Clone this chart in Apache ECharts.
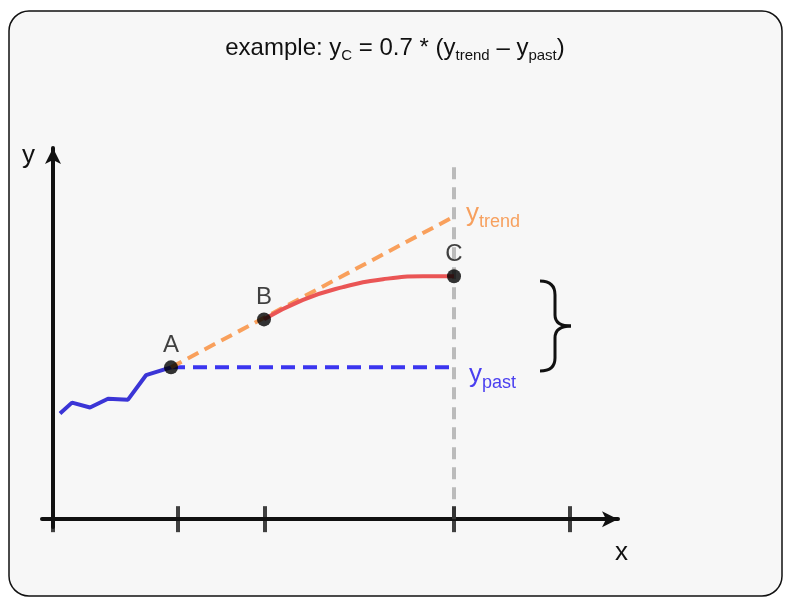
<!DOCTYPE html>
<html><head><meta charset="utf-8">
<script src="https://cdn.jsdelivr.net/npm/echarts@6/dist/echarts.min.js"></script>
<style>html,body{margin:0;padding:0;background:#fff}#c{width:790px;height:603px}</style>
</head><body><div id="c"></div>
<script>
const pastLine = [[7,108],[19,119],[37,114],[55,123],[75,122],[93,147],[118,155]];
const trendLine = [[118,155],[401,309]];
const pastFlat = [[118,155],[401,155]];
const curveC = [[211,204],[250,224],[290,237],[330,245],[370,248],[401,248]];
const vline = [[401,0],[401,362]];
const points = [{name:'A',value:[118,155]},{name:'B',value:[211,204]},{name:'C',value:[401,248]}];
const ticks = [0,125,212,401,517];
const ff = 'Liberation Sans, Arial, sans-serif';
const bs = {stroke:'#111',lineWidth:3,fill:'none'};
const chart = echarts.init(document.getElementById('c'));
chart.setOption({
  animation:false,
  backgroundColor:'#fff',
  graphic:[
    {type:'rect',z:-10,shape:{x:9,y:11,width:773,height:585,r:20},style:{fill:'#f7f7f7',stroke:'#111',lineWidth:1.5}},
    {type:'text',x:395,y:34,style:{text:'example: y{s|C} = 0.7 * (y{s|trend} – y{s|past})',align:'center',font:'24px '+ff,fill:'#111',rich:{s:{fontSize:15,padding:[14,0,0,0],fill:'#111'}}}},
    {type:'text',x:22,y:143,style:{text:'y',font:'26px '+ff,fill:'#111'}},
    {type:'text',x:615,y:540,style:{text:'x',font:'26px '+ff,fill:'#111'}},
    {type:'text',x:466,y:197,style:{text:'y{s|trend}',font:'26px '+ff,fill:'#f7a05e',rich:{s:{fontSize:18,padding:[16,0,0,0],fill:'#f7a05e'}}}},
    {type:'text',x:469,y:358,style:{text:'y{s|past}',font:'26px '+ff,fill:'#4a3ff0',rich:{s:{fontSize:18,padding:[16,0,0,0],fill:'#4a3ff0'}}}},
    {type:'bezierCurve',shape:{x1:540,y1:281,cpx1:555,cpy1:281,x2:555,y2:295},style:bs},
    {type:'line',shape:{x1:555,y1:295,x2:555,y2:315},style:bs},
    {type:'bezierCurve',shape:{x1:555,y1:315,cpx1:555,cpy1:326,x2:571,y2:326},style:bs},
    {type:'bezierCurve',shape:{x1:571,y1:326,cpx1:555,cpy1:326,x2:555,y2:338},style:bs},
    {type:'line',shape:{x1:555,y1:338,x2:555,y2:358},style:bs},
    {type:'bezierCurve',shape:{x1:555,y1:358,cpx1:555,cpy1:371,x2:540,y2:371},style:bs}
  ],
  grid:{left:42,right:172,top:148,bottom:76},
  xAxis:{type:'value',min:-11,max:565,axisLine:{onZero:true,symbol:['none','arrow'],symbolSize:[12,16],lineStyle:{color:'#111',width:4}},axisTick:{show:false},axisLabel:{show:false},splitLine:{show:false}},
  yAxis:{type:'value',min:-8,max:379,axisLine:{onZero:true,symbol:['none','arrow'],symbolSize:[12,16],lineStyle:{color:'#111',width:4}},axisTick:{show:false},axisLabel:{show:false},splitLine:{show:false}},
  series:[
    {type:'line',data:vline,symbol:'none',lineStyle:{color:'#bbb',width:4,type:[12,8]},z:1},
    {type:'line',data:pastLine,symbol:'none',lineStyle:{color:'#3b35d6',width:4},z:3},
    {type:'line',data:pastFlat,symbol:'none',lineStyle:{color:'#3b35ef',width:4,type:[14,8]},z:3},
    {type:'line',data:trendLine,symbol:'none',lineStyle:{color:'#f9a05c',width:4,type:[12,7]},z:3},
    {type:'line',data:curveC,symbol:'none',smooth:true,lineStyle:{color:'#ea5555',width:4},z:4},
    {type:'scatter',data:ticks.map(t=>[t,0]),symbol:'rect',symbolSize:[4,26],itemStyle:{color:'#111'},z:5},
    {type:'scatter',data:points,symbolSize:14,itemStyle:{color:'#000'},z:6,
     label:{show:true,formatter:'{b}',position:'top',offset:[0,2],fontSize:24,fontFamily:ff,color:'#111'}}
  ]
});
</script></body></html>
